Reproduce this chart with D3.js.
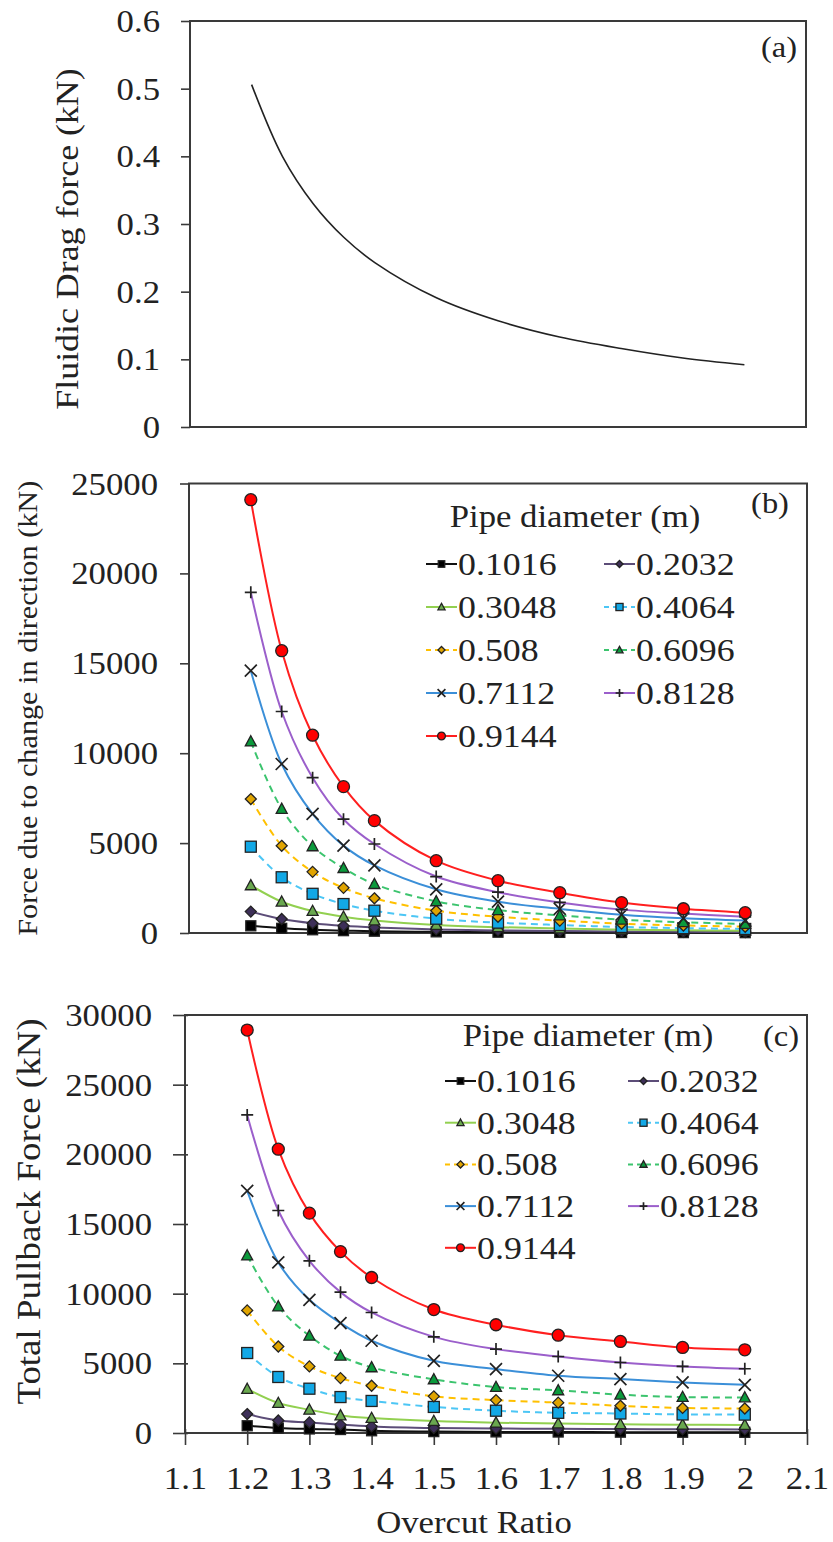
<!DOCTYPE html>
<html>
<head>
<meta charset="utf-8">
<script src="https://cdn.jsdelivr.net/npm/d3@7"></script>
<style>
body { margin: 0; background: #fff; }
text { font-family: "Liberation Serif", "Times New Roman", serif; fill: #222; }
</style>
</head>
<body>
<div id="chart"></div>
<script>
// overcut ratio (x values shared by all panels)
const ratio = [1.2, 1.25, 1.3, 1.35, 1.4, 1.5, 1.6, 1.7, 1.8, 1.9, 2.0];

// (a) fluidic drag force, kN
const dragForce = [0.506, 0.400, 0.330, 0.280, 0.243, 0.191, 0.157, 0.133, 0.116, 0.102, 0.092];

// pipe diameters (legend)
const diameters = ["0.1016", "0.2032", "0.3048", "0.4064", "0.508", "0.6096", "0.7112", "0.8128", "0.9144"];

// (b) force due to change in direction, kN
const dir0_1016 = [400, 260, 180, 130, 100, 65, 45, 35, 28, 22, 18];
const dir0_2032 = [1190, 780, 545, 400, 310, 200, 145, 110, 85, 67, 56];
const dir0_3048 = [2650, 1740, 1220, 900, 695, 445, 325, 250, 188, 150, 125];
const dir0_4064 = [4800, 3100, 2180, 1610, 1240, 795, 575, 445, 335, 268, 224];
const dir0_508  = [7450, 4850, 3400, 2510, 1930, 1240, 900, 690, 520, 417, 350];
const dir0_6096 = [10650, 6900, 4820, 3610, 2720, 1760, 1270, 980, 740, 600, 500];
const dir0_7112 = [14590, 9400, 6630, 4860, 3760, 2430, 1740, 1340, 1020, 817, 690];
const dir0_8128 = [18950, 12320, 8640, 6330, 4950, 3140, 2270, 1700, 1300, 1080, 900];
const dir0_9144 = [24100, 15700, 11000, 8140, 6250, 4020, 2910, 2240, 1690, 1350, 1130];

// (c) total pullback force, kN
const tot0_1016 = [520, 360, 290, 250, 160, 100, 80, 70, 60, 55, 50];
const tot0_2032 = [1360, 900, 760, 600, 475, 360, 320, 300, 285, 270, 260];
const tot0_3048 = [3160, 2150, 1670, 1260, 1075, 860, 740, 680, 630, 600, 580];
const tot0_4064 = [5740, 4020, 3180, 2580, 2300, 1870, 1600, 1450, 1400, 1330, 1320];
const tot0_508  = [8800, 6210, 4780, 3940, 3390, 2630, 2360, 2180, 1950, 1800, 1760];
const tot0_6096 = [12740, 9080, 6980, 5540, 4710, 3850, 3300, 3060, 2750, 2580, 2550];
const tot0_7112 = [17380, 12240, 9560, 7890, 6620, 5180, 4590, 4110, 3870, 3630, 3460];
const tot0_8128 = [22830, 15970, 12360, 10110, 8650, 6900, 6020, 5490, 5060, 4780, 4610];
const tot0_9144 = [28920, 20370, 15780, 13020, 11160, 8860, 7770, 7020, 6570, 6140, 5970];

const dirSeries = [dir0_1016, dir0_2032, dir0_3048, dir0_4064, dir0_508, dir0_6096, dir0_7112, dir0_8128, dir0_9144];
const totSeries = [tot0_1016, tot0_2032, tot0_3048, tot0_4064, tot0_508, tot0_6096, tot0_7112, tot0_8128, tot0_9144];

// look of each diameter series
const styles = [
  {color: "#111111", dash: null,  shape: "square",   fill: "#000000", size: 10},
  {color: "#5c4d78", dash: null,  shape: "diamond",  fill: "#3d2f58", size: 11},
  {color: "#92d050", dash: null,  shape: "triangle", fill: "#6aa84f", size: 11},
  {color: "#4cc6f5", dash: "7,5", shape: "square",   fill: "#12a8e6", size: 11},
  {color: "#ffc000", dash: "7,5", shape: "diamond",  fill: "#e0a400", size: 11},
  {color: "#3cc46e", dash: "7,5", shape: "triangle", fill: "#0b9a3c", size: 11},
  {color: "#3b8fd8", dash: null,  shape: "x",        fill: "none",    size: 12},
  {color: "#9b5fcb", dash: null,  shape: "plus",     fill: "none",    size: 12},
  {color: "#ff1f1f", dash: null,  shape: "circle",   fill: "#ff0000", size: 12}
];

const W = 833, H = 1542;
const SX = 1.12; // the source font is wide
const svg = d3.select("#chart").append("svg").attr("width", W).attr("height", H);

function label(g, x, y, str, size, anchor, rot) {
  return g.append("text")
    .attr("transform", "translate(" + x + "," + y + ")" + (rot ? " rotate(" + rot + ")" : "") + " scale(" + SX + ",1)")
    .attr("font-size", size)
    .attr("text-anchor", anchor || "start")
    .text(str);
}

function marker(g, st, x, y, s) {
  const m = g.append("g").attr("transform", "translate(" + x + "," + y + ")");
  const h = s / 2;
  if (st.shape == "circle") {
    m.append("circle").attr("r", h).attr("fill", st.fill).attr("stroke", "#222").attr("stroke-width", 1.3);
  } else if (st.shape == "square") {
    m.append("rect").attr("x", -h).attr("y", -h).attr("width", s).attr("height", s)
      .attr("fill", st.fill).attr("stroke", "#222").attr("stroke-width", 1.3);
  } else if (st.shape == "diamond") {
    m.append("path").attr("d", "M0," + (-h) + "L" + h + ",0L0," + h + "L" + (-h) + ",0Z")
      .attr("fill", st.fill).attr("stroke", "#222").attr("stroke-width", 1.3);
  } else if (st.shape == "triangle") {
    m.append("path").attr("d", "M0," + (-h * 1.05) + "L" + h + "," + (h * 0.8) + "L" + (-h) + "," + (h * 0.8) + "Z")
      .attr("fill", st.fill).attr("stroke", "#222").attr("stroke-width", 1.3);
  } else if (st.shape == "x") {
    m.append("path").attr("d", "M" + (-h) + "," + (-h) + "L" + h + "," + h + "M" + h + "," + (-h) + "L" + (-h) + "," + h)
      .attr("stroke", "#222").attr("stroke-width", 1.7);
  } else if (st.shape == "plus") {
    m.append("path").attr("d", "M" + (-h) + ",0L" + h + ",0M0," + (-h) + "L0," + h)
      .attr("stroke", "#222").attr("stroke-width", 1.7);
  }
}

function box(p) {
  svg.append("rect").attr("x", p.l).attr("y", p.t).attr("width", p.r - p.l).attr("height", p.b - p.t)
    .attr("fill", "none").attr("stroke", "#3a3a3a").attr("stroke-width", 2);
}

function yAxis(p, y, major, minor, fmt, gap, size) {
  const g = svg.append("g").attr("transform", "translate(" + p.l + ",0)");
  g.call(d3.axisLeft(y).tickValues(minor).tickSize(p.tick).tickFormat(""));
  g.call(d3.axisLeft(y).tickValues(major).tickSize(p.tick).tickPadding(0).tickFormat(fmt));
  g.selectAll(".domain").remove();
  g.selectAll("line").attr("stroke", "#3a3a3a").attr("stroke-width", 1.6);
  if (p.cross) g.selectAll("line").attr("x2", -p.tick).attr("x1", 3);
  g.selectAll("text").attr("font-size", size).attr("x", -gap / SX).attr("dy", "0.34em")
    .attr("transform", "scale(" + SX + ",1)").attr("fill", "#222");
  return g;
}

const lineGen = (x, y) => d3.line().x((d, i) => x(ratio[i])).y(d => y(d)).curve(d3.curveCatmullRom.alpha(0.5));

// ---------- panel (a)
const pA = {l: 190, r: 806, t: 21, b: 427, tick: 9};
const xA = d3.scaleLinear().domain([1.1, 2.1]).range([pA.l, pA.r]);
const yA = d3.scaleLinear().domain([0, 0.6]).range([pA.b, pA.t]);
const aMajor = [0, 0.1, 0.2, 0.3, 0.4, 0.5, 0.6];
const aMinor = [0.05, 0.15, 0.25, 0.35, 0.45, 0.55];
yAxis(pA, yA, aMajor, aMinor, d => d === 0 ? "0" : d3.format(".1f")(d), 30, 31);
box(pA);
svg.append("path").datum(dragForce).attr("d", lineGen(xA, yA))
  .attr("fill", "none").attr("stroke", "#222").attr("stroke-width", 1.6);
label(svg, 78, (pA.t + pA.b) / 2 + 15, "Fluidic Drag force (kN)", 32, "middle", -90);
label(svg, 779, 57, "(a)", 29, "middle");

// ---------- panel (b)
const pB = {l: 189, r: 807, t: 483.5, b: 933, tick: 9};
const xB = d3.scaleLinear().domain([1.1, 2.1]).range([pB.l, pB.r]);
const yB = d3.scaleLinear().domain([0, 25000]).range([pB.b, pB.t]);
yAxis(pB, yB, d3.range(0, 25001, 5000), d3.range(1000, 25000, 1000).filter(v => v % 5000), d => d, 31, 31);
box(pB);
label(svg, 37, (pB.t + pB.b) / 2, "Force due to change in direction (kN)", 27, "middle", -90);
label(svg, 770, 513, "(b)", 29, "middle");

// ---------- panel (c)
const pC = {l: 185, r: 807, t: 1015, b: 1433, tick: 12, cross: true};
const xC = d3.scaleLinear().domain([1.1, 2.1]).range([pC.l, pC.r]);
const yC = d3.scaleLinear().domain([0, 30000]).range([pC.b, pC.t]);
yAxis(pC, yC, d3.range(0, 30001, 5000), d3.range(1000, 30000, 1000).filter(v => v % 5000), d => d, 33, 31);
box(pC);
const xMajor = [1.1, 1.2, 1.3, 1.4, 1.5, 1.6, 1.7, 1.8, 1.9, 2.0, 2.1];
const xMinor = [1.15, 1.25, 1.35, 1.45, 1.55, 1.65, 1.75, 1.85, 1.95, 2.05];
const gx = svg.append("g").attr("transform", "translate(0," + pC.b + ")");
gx.call(d3.axisBottom(xC).tickValues(xMinor).tickSize(12).tickFormat(""));
gx.call(d3.axisBottom(xC).tickValues(xMajor).tickSize(12).tickPadding(0).tickFormat(d => String(+d.toFixed(2))));
gx.selectAll(".domain").remove();
gx.selectAll("line").attr("stroke", "#3a3a3a").attr("stroke-width", 1.6).attr("y1", -4);
gx.selectAll("text").attr("font-size", 31).attr("y", 56).attr("dy", 0).attr("x", 0)
  .attr("transform", "scale(" + SX + ",1)").attr("fill", "#222");
label(svg, 40, (pC.t + 1392) / 2 + 8, "Total Pullback Force (kN)", 33, "middle", -90);
label(svg, 474, 1533, "Overcut Ratio", 31, "middle");
label(svg, 781, 1046, "(c)", 29, "middle");

// ---------- series
function drawSeries(list, x, y) {
  list.forEach((vals, k) => {
    const st = styles[k];
    const g = svg.append("g");
    g.append("path").datum(vals).attr("d", lineGen(x, y))
      .attr("fill", "none").attr("stroke", st.color).attr("stroke-width", 2)
      .attr("stroke-dasharray", st.dash);
    vals.forEach((v, i) => marker(g, st, x(ratio[i]), y(v), st.size));
  });
}
drawSeries(dirSeries, xB, yB);
drawSeries(totSeries, xC, yC);

// ---------- legends
function legend(cx, titleY, rowY, col1, col2, step) {
  label(svg, cx, titleY, "Pipe diameter (m)", 31, "middle");
  diameters.forEach((name, k) => {
    const st = styles[k];
    const lx = k % 2 ? col2 : col1;
    const by = rowY + Math.floor(k / 2) * step;
    const my = by - 11;
    svg.append("line").attr("x1", lx).attr("x2", lx + 31).attr("y1", my).attr("y2", my)
      .attr("stroke", st.color).attr("stroke-width", 2).attr("stroke-dasharray", st.dash ? "5,4" : null);
    marker(svg, st, lx + 15.5, my, st.size * 0.65);
    label(svg, lx + 32, by, name, 32, "start");
  });
}
legend(575, 527, 575, 426, 604, 43);
legend(588, 1046, 1092, 445, 628, 41.7);
</script>
</body>
</html>
